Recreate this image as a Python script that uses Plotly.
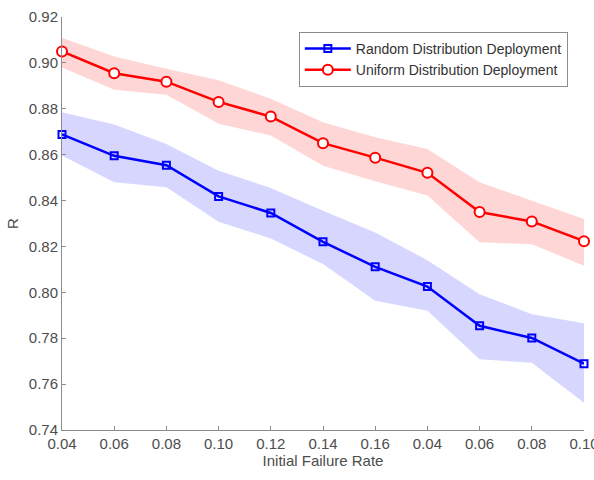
import plotly.graph_objects as go

tick_labels = ["0.04", "0.06", "0.08", "0.10", "0.12", "0.14", "0.16", "0.04", "0.06", "0.08", "0.10"]

random_mean = [0.8688, 0.8595, 0.8554, 0.8418, 0.8346, 0.8220, 0.8111, 0.8025, 0.7854, 0.7801, 0.7689]
random_upper = [0.8785, 0.8731, 0.8647, 0.8530, 0.8455, 0.8356, 0.8261, 0.8140, 0.7992, 0.7905, 0.7865]
random_lower = [0.8596, 0.8480, 0.8458, 0.8308, 0.8235, 0.8123, 0.7963, 0.7920, 0.7708, 0.7693, 0.7519]

uniform_mean = [0.9050, 0.8955, 0.8918, 0.8830, 0.8766, 0.8650, 0.8587, 0.8521, 0.8350, 0.8309, 0.8223]
uniform_upper = [0.9110, 0.9028, 0.8975, 0.8924, 0.8844, 0.8741, 0.8676, 0.8625, 0.8480, 0.8400, 0.8320]
uniform_lower = [0.8980, 0.8883, 0.8861, 0.8735, 0.8683, 0.8552, 0.8484, 0.8422, 0.8218, 0.8210, 0.8116]

x = list(range(len(tick_labels)))

fig = go.Figure()

def band(upper, lower, color):
    return go.Scatter(
        x=x + x[::-1], y=upper + lower[::-1], fill="toself",
        fillcolor=color, line=dict(width=0), mode="lines",
        hoverinfo="skip", showlegend=False)

fig.add_trace(band(random_upper, random_lower, "rgba(0,0,255,0.16)"))
fig.add_trace(band(uniform_upper, uniform_lower, "rgba(255,0,0,0.16)"))

fig.add_trace(go.Scatter(
    x=x, y=random_mean, mode="lines+markers", name="Random Distribution Deployment",
    line=dict(color="#0000ff", width=2.5),
    marker=dict(symbol="square-open", size=7, color="#0000ff", line=dict(width=2)),
    cliponaxis=False))
fig.add_trace(go.Scatter(
    x=x, y=uniform_mean, mode="lines+markers", name="Uniform Distribution Deployment",
    line=dict(color="#ff0000", width=2.5),
    marker=dict(symbol="circle", size=10, color="white", line=dict(width=2, color="#ff0000")),
    cliponaxis=False))

axis_font = dict(family="Liberation Sans, Arial, sans-serif", size=15, color="#4d4d4d")

fig.update_layout(
    width=594, height=480,
    margin=dict(l=62, r=10, t=17, b=50, autoexpand=False),
    paper_bgcolor="white", plot_bgcolor="white",
    font=axis_font,
    legend=dict(
        x=0.969, y=0.964, xanchor="right", yanchor="top",
        bordercolor="#8c8c8c", borderwidth=1, bgcolor="white",
        font=dict(family="Liberation Sans, Arial, sans-serif", size=14, color="#333333"),
        itemwidth=46, tracegroupgap=0),
    xaxis=dict(
        range=[0, len(tick_labels) - 1 + 1e-6], tickvals=x, ticktext=tick_labels,
        showgrid=False, zeroline=False, showline=True, linecolor="#8c8c8c", linewidth=1,
        ticks="inside", ticklen=4, tickcolor="#8c8c8c", ticklabeloverflow="allow",
        automargin=False,
        title=dict(text="Initial Failure Rate", standoff=4, font=axis_font),
        tickfont=axis_font),
    yaxis=dict(
        range=[0.74, 0.92], dtick=0.02, tickformat=".2f",
        showgrid=False, zeroline=False, showline=True, linecolor="#8c8c8c", linewidth=1,
        ticks="inside", ticklen=4, tickcolor="#8c8c8c", automargin=False,
        title=dict(text="R", standoff=6, font=axis_font),
        tickfont=axis_font),
)

fig.write_html("out.html")
